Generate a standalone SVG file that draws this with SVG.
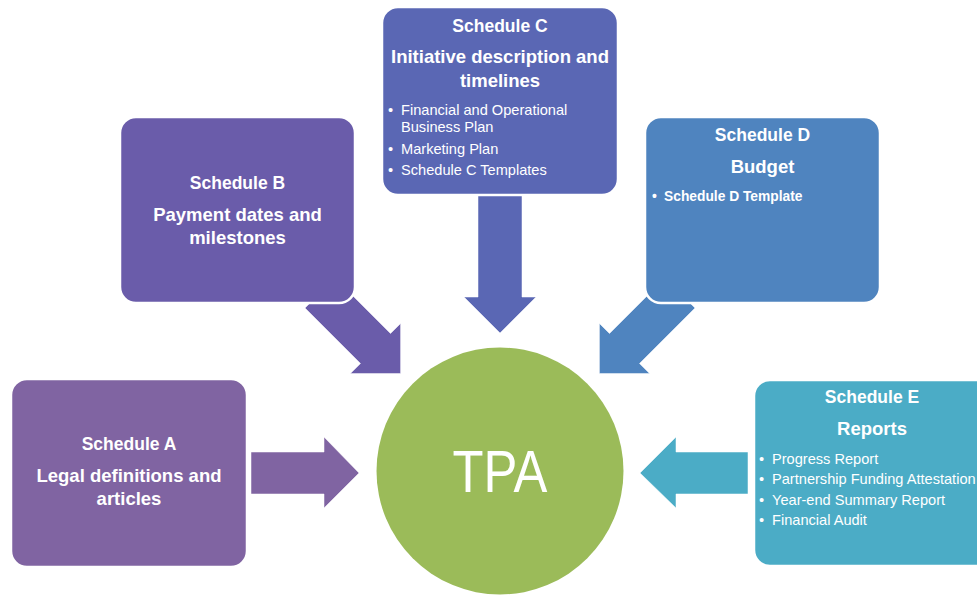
<svg xmlns="http://www.w3.org/2000/svg" width="977" height="595" viewBox="0 0 977 595">
<style>
.box{stroke:#fff;stroke-width:2.5}
.t{font-family:"Liberation Sans",Arial,sans-serif;fill:#fff;font-weight:bold;text-anchor:middle}
.h1{font-size:17.5px}
.h2{font-size:18.5px}
.b{font-family:"Liberation Sans",Arial,sans-serif;fill:#fff;font-size:14.6px}
.bb{font-weight:bold;font-size:13.8px}
.arr{stroke:#fff;stroke-width:1;stroke-opacity:0.5}
</style>
<rect width="977" height="595" fill="#fff"/>
<g id="connectors">
  <polygon class="arr" fill="#6A5CAA" points="335,278 390.5,333.5 400.6,323.4 400.6,373.6 350.4,373.6 360.5,363.5 305,308"/>
  <polygon class="arr" fill="#4F84BF" points="665,278 609.5,333.5 599.4,323.4 599.4,373.6 649.6,373.6 639.5,363.5 695,308"/>
  <polygon class="arr" fill="#5A67B4" points="478,185 522,185 522,297 536,297 500,333 464,297 478,297"/>
  <polygon class="arr" fill="#8064A2" points="251,452 324,452 324,437 359,473 324,508 324,494 251,494"/>
  <polygon class="arr" fill="#4BACC6" points="748,452 676,452 676,437 640,473 676,508 676,494 748,494"/>
</g>
<g id="tpa">
  <circle cx="500" cy="471" r="123.5" fill="#9BBB59"/>
  <text x="500" y="492" font-family="'Liberation Sans',Arial,sans-serif" font-size="59" fill="#fff" text-anchor="middle" textLength="95" lengthAdjust="spacingAndGlyphs">TPA</text>
</g>
<g id="scheduleA">
  <rect class="box" x="11" y="379" width="236" height="188" rx="16" fill="#8064A2"/>
  <text class="t h1" x="129" y="450">Schedule A</text>
  <text class="t h2" x="129" y="482">Legal definitions and</text>
  <text class="t h2" x="129" y="505">articles</text>
</g>
<g id="scheduleB">
  <rect class="box" x="120" y="117" width="235" height="186" rx="16" fill="#6A5CAA"/>
  <text class="t h1" x="237.5" y="189">Schedule B</text>
  <text class="t h2" x="237.5" y="221">Payment dates and</text>
  <text class="t h2" x="237.5" y="244">milestones</text>
</g>
<g id="scheduleC">
  <rect class="box" x="382" y="7" width="236" height="188" rx="16" fill="#5A67B4"/>
  <text class="t h1" x="500" y="32">Schedule C</text>
  <text class="t h2" x="500" y="63">Initiative description and</text>
  <text class="t h2" x="500" y="87">timelines</text>
  <text class="b" x="388" y="115">•</text><text class="b" x="401" y="115">Financial and Operational</text>
  <text class="b" x="401" y="132">Business Plan</text>
  <text class="b" x="388" y="154">•</text><text class="b" x="401" y="154">Marketing Plan</text>
  <text class="b" x="388" y="175">•</text><text class="b" x="401" y="175">Schedule C Templates</text>
</g>
<g id="scheduleD">
  <rect class="box" x="645" y="117" width="235" height="186" rx="16" fill="#4F84BF"/>
  <text class="t h1" x="762.5" y="141">Schedule D</text>
  <text class="t h2" x="762.5" y="173">Budget</text>
  <text class="b bb" x="652" y="201">•</text><text class="b bb" x="664" y="201">Schedule D Template</text>
</g>
<g id="scheduleE">
  <rect class="box" x="754" y="380" width="240" height="186" rx="16" fill="#4BACC6"/>
  <text class="t h1" x="872" y="403">Schedule E</text>
  <text class="t h2" x="872" y="435">Reports</text>
  <text class="b" x="759" y="464">•</text><text class="b" x="772" y="464">Progress Report</text>
  <text class="b" x="759" y="484">•</text><text class="b" x="772" y="484">Partnership Funding Attestation</text>
  <text class="b" x="759" y="505">•</text><text class="b" x="772" y="505">Year-end Summary Report</text>
  <text class="b" x="759" y="525">•</text><text class="b" x="772" y="525">Financial Audit</text>
</g>
</svg>
